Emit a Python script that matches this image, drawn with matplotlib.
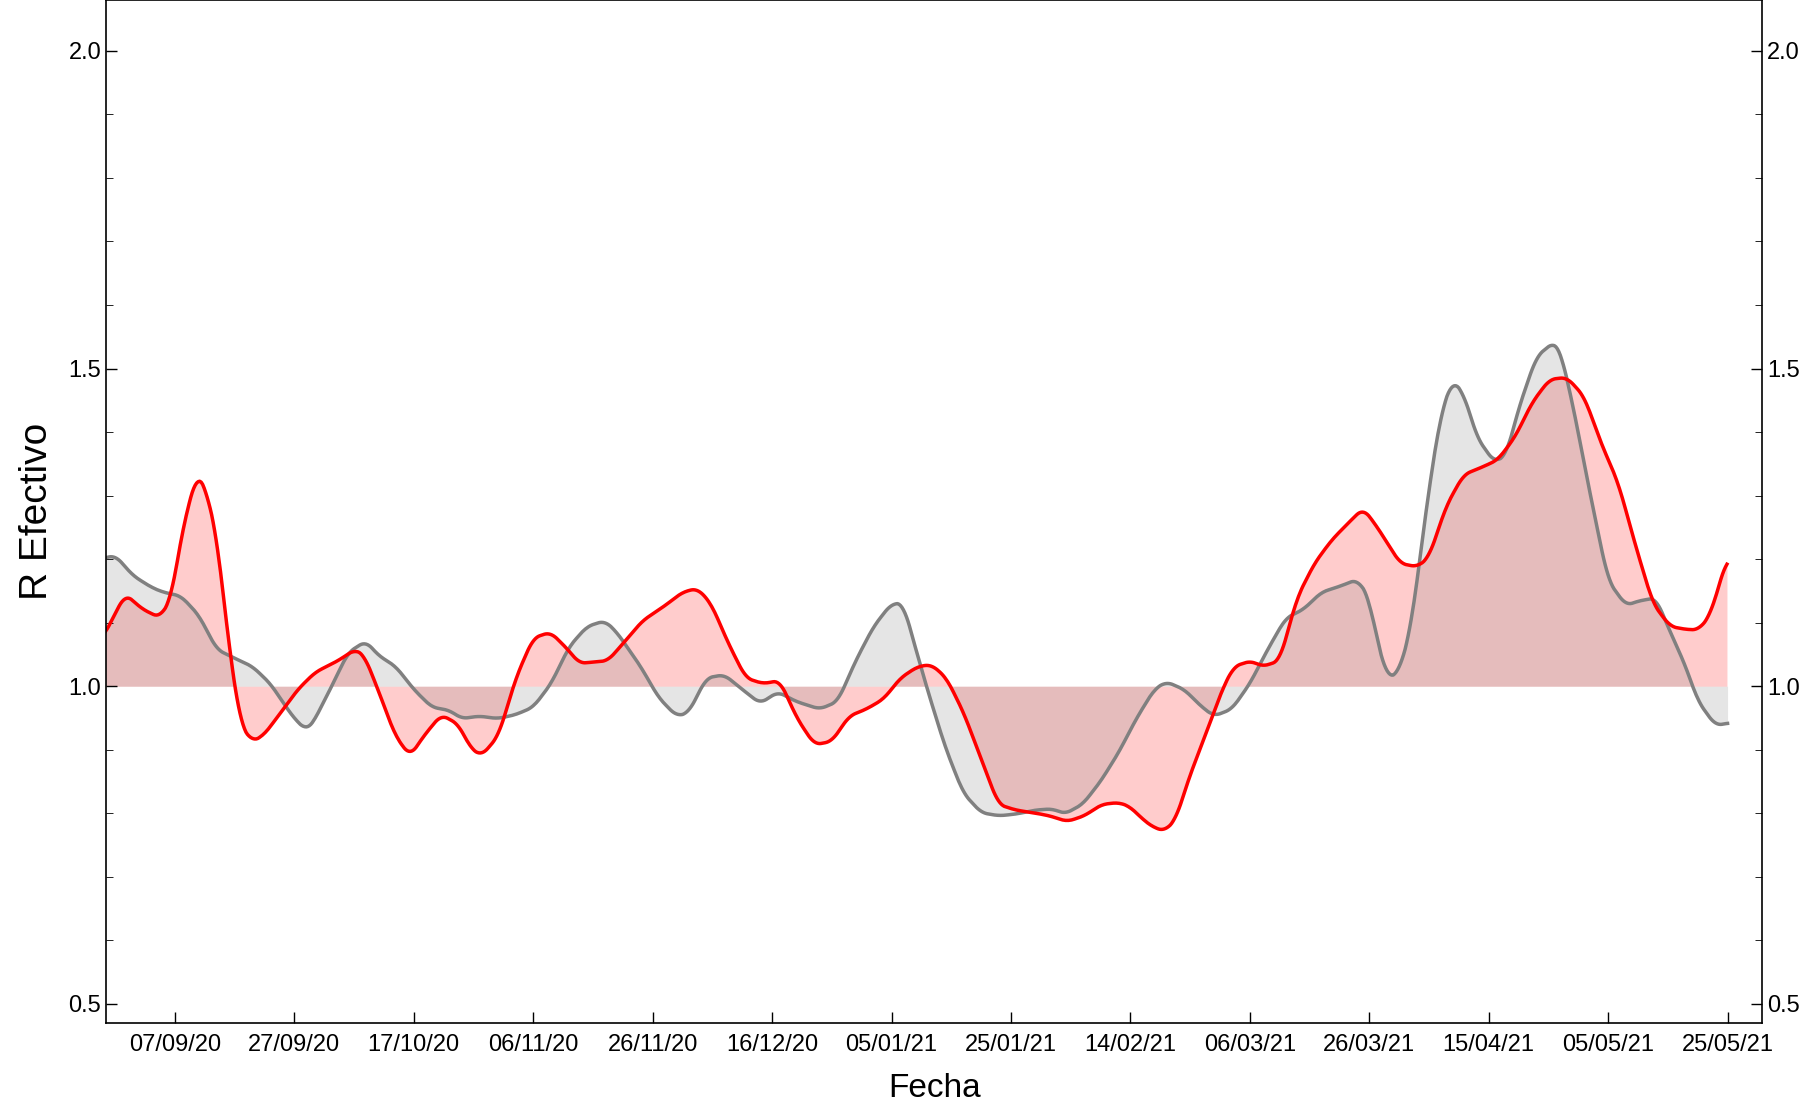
import numpy as np
import matplotlib
matplotlib.use("Agg")
import matplotlib.pyplot as plt
import matplotlib.dates as mdates
from matplotlib.ticker import MultipleLocator
import datetime as dt

plt.rcParams['font.family'] = ['Liberation Sans', 'DejaVu Sans']

base = dt.date(2020, 9, 7)
red_days = [-12.1,-8.3,-5.4,-2.5,-0.6,1.3,3.7,5.2,7.1,9.0,11.0,12.9,14.8,17.7,20.6,23.5,27.3,30.2,31.7,34.0,36.9,39.4,41.7,44.6,47.5,49.4,51.3,54.2,57.1,60.0,62.9,65.8,67.7,72.5,75.4,78.3,82.1,85.0,87.5,89.8,92.7,95.6,98.5,101.3,104.2,107.1,110.0,112.9,115.8,118.7,121.5,124.4,126.7,129.2,132.1,135.0,137.9,140.8,143.7,146.5,149.4,152.3,155.2,158.1,160.0,161.9,163.8,165.8,167.7,169.6,172.5,175.4,177.3,180.2,182.1,185.0,187.9,190.8,193.7,196.5,199.0,201.3,205.2,208.1,210.0,212.9,215.8,218.7,221.5,224.4,227.3,230.2,233.1,236.0,238.8,241.7,244.6,247.5,250.4,253.3,255.2,257.1,260.0]
red_r = [1.076,1.145,1.121,1.108,1.139,1.248,1.335,1.311,1.230,1.067,0.940,0.913,0.922,0.958,0.995,1.022,1.040,1.058,1.049,0.995,0.922,0.890,0.922,0.955,0.940,0.904,0.890,0.922,1.013,1.076,1.085,1.058,1.036,1.040,1.071,1.103,1.127,1.148,1.154,1.130,1.067,1.013,1.004,1.009,0.949,0.908,0.913,0.953,0.964,0.980,1.013,1.031,1.034,1.013,0.958,0.886,0.814,0.805,0.801,0.796,0.787,0.796,0.814,0.817,0.810,0.792,0.778,0.772,0.792,0.850,0.922,0.995,1.031,1.040,1.031,1.040,1.139,1.193,1.230,1.257,1.280,1.251,1.193,1.188,1.203,1.284,1.333,1.344,1.356,1.392,1.447,1.483,1.486,1.456,1.383,1.320,1.221,1.130,1.094,1.089,1.089,1.112,1.204]
gray_days = [-12,-10,-7,-4,-2,1,4,7,10,13,16,18,20,22,23,26,29,32,34,37,40,43,46,48,51,54,57,60,63,66,69,72,74,78,81,84,86,89,92,95,98,101,104,108,111,114,117,120,122,123,126,129,132,135,138,141,144,147,149,152,155,158,161,164,166,169,172,174,177,180,183,186,189,192,195,198,200,201,203,205,207,210,212,214,216,218,221,223,225,228,231,232,234,237,240,243,245,248,250,253,255,258,260]
gray_r = [1.201,1.206,1.174,1.156,1.148,1.142,1.112,1.058,1.044,1.031,1.004,0.976,0.949,0.931,0.940,0.995,1.053,1.071,1.049,1.031,0.995,0.967,0.962,0.949,0.953,0.949,0.955,0.967,1.004,1.062,1.094,1.103,1.085,1.031,0.982,0.953,0.958,1.013,1.018,0.995,0.973,0.991,0.976,0.964,0.976,1.040,1.094,1.130,1.130,1.094,0.995,0.904,0.832,0.801,0.796,0.799,0.805,0.807,0.799,0.814,0.850,0.895,0.949,0.995,1.007,0.995,0.967,0.953,0.964,1.004,1.058,1.107,1.121,1.148,1.157,1.168,1.139,1.085,1.013,1.022,1.094,1.311,1.429,1.483,1.456,1.392,1.352,1.365,1.437,1.519,1.542,1.528,1.447,1.302,1.166,1.127,1.134,1.139,1.094,1.031,0.977,0.938,0.942]
tick_dates = ["07/09/20","27/09/20","17/10/20","06/11/20","26/11/20","16/12/20","05/01/21","25/01/21","14/02/21","06/03/21","26/03/21","15/04/21","05/05/21","25/05/21"]

def to_num(days):
    return mdates.date2num(base) + np.asarray(days, dtype=float)

def smooth(days, vals):
    d = np.asarray(days, float); v = np.asarray(vals, float)
    grid = np.arange(d[0], d[-1] + 0.01, 0.25)
    g = np.interp(grid, d, v)
    k = np.ones(9) / 9
    pad = np.pad(g, 4, mode='edge')
    return grid, np.convolve(pad, k, mode='valid')

fig = plt.figure(figsize=(18, 11.18), dpi=100)
ax = fig.add_axes([0.059, 0.085, 0.92, 0.915])

gx, gy = smooth(gray_days, gray_r)
rx, ry = smooth(red_days, red_r)
gxn, rxn = to_num(gx), to_num(rx)
ax.fill_between(rxn, ry, 1.0, color='red', alpha=0.2, linewidth=0)
ax.fill_between(gxn, gy, 1.0, color='#808080', alpha=0.2, linewidth=0)
ax.plot(gxn, gy, color='#808080', lw=2.5)
ax.plot(rxn, ry, color='red', lw=2.5)

ax.set_ylim(0.47, 2.08)
ax.set_xlim(to_num([-11.5])[0], to_num([265.8])[0])
tick_nums = [mdates.date2num(dt.datetime.strptime(t, "%d/%m/%y")) for t in tick_dates]
ax.set_xticks(tick_nums)
ax.set_xticklabels(tick_dates)
ax.yaxis.set_major_locator(MultipleLocator(0.5))
ax.yaxis.set_minor_locator(MultipleLocator(0.1))
ax.tick_params(direction='in', labelsize=17, length=8, width=1, right=True, labelright=True)
ax.tick_params(which='minor', direction='in', length=5, right=True)
ax.tick_params(axis='x', top=False, pad=8)
ax.set_xlabel("Fecha", fontsize=24, labelpad=12)
ax.set_ylabel("R Efectivo", fontsize=28, labelpad=10)
for s in ax.spines.values():
    s.set_linewidth(1.2)
fig.savefig("out.png", dpi=100)
